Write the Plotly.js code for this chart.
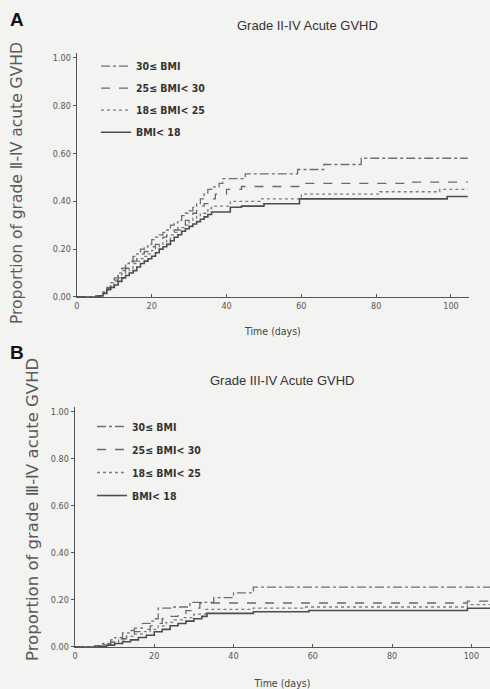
<!DOCTYPE html>
<html>
<head>
<meta charset="utf-8">
<script src="https://cdn.plot.ly/plotly-3.0.1.min.js"></script>
<style>html,body{margin:0;padding:0;background:#f3f3f1;}#chart{width:490px;height:689px;}</style>
</head>
<body>
<div id="chart"></div>
<script>
// ---- Legend / series names ----
const seriesNames = ["30\u2264 BMI", "25\u2264 BMI< 30", "18\u2264 BMI< 25", "BMI< 18"];
const yTitleA = "Proportion of grade \u2161-\u2163 acute GVHD";
const yTitleB = "Proportion of grade \u2162-\u2163 acute GVHD";

// ---- Panel A: Grade II-IV acute GVHD (days, cumulative proportion) ----
const tA_30 = [0, 5, 7, 8, 9, 10, 11, 12, 13, 14, 15, 16, 17, 18, 19, 20, 21, 22, 23, 24, 25, 26, 27, 28, 29, 30, 31, 32, 33, 34, 35, 36, 38, 39, 45, 59, 66, 76, 104.5];
const yA_30 = [0, 0.005, 0.02, 0.04, 0.06, 0.08, 0.10, 0.12, 0.14, 0.15, 0.17, 0.18, 0.20, 0.21, 0.22, 0.24, 0.25, 0.26, 0.27, 0.28, 0.30, 0.31, 0.32, 0.34, 0.35, 0.36, 0.375, 0.39, 0.41, 0.435, 0.45, 0.46, 0.475, 0.495, 0.515, 0.533, 0.554, 0.58, 0.58];

const tA_25 = [0, 5, 7, 8, 9, 10, 11, 12, 13, 14, 15, 16, 17, 18, 19, 20, 21, 22, 23, 24, 25, 26, 27, 28, 29, 30, 31, 32, 33, 34, 35, 37, 40, 44, 61, 89, 104.5];
const yA_25 = [0, 0.005, 0.02, 0.035, 0.05, 0.07, 0.09, 0.11, 0.12, 0.14, 0.15, 0.16, 0.18, 0.19, 0.20, 0.21, 0.22, 0.235, 0.25, 0.26, 0.27, 0.28, 0.29, 0.30, 0.32, 0.33, 0.35, 0.37, 0.38, 0.39, 0.41, 0.43, 0.45, 0.462, 0.475, 0.48, 0.48];

const tA_18 = [0, 5, 7, 8, 9, 10, 11, 12, 13, 14, 15, 16, 17, 18, 19, 20, 21, 22, 23, 24, 25, 26, 27, 28, 29, 30, 31, 32, 33, 35, 36, 41, 49, 60, 81, 97, 104.5];
const yA_18 = [0, 0.005, 0.02, 0.035, 0.05, 0.065, 0.08, 0.10, 0.11, 0.12, 0.14, 0.15, 0.16, 0.17, 0.18, 0.195, 0.21, 0.22, 0.23, 0.24, 0.26, 0.27, 0.28, 0.29, 0.30, 0.32, 0.33, 0.34, 0.35, 0.37, 0.38, 0.40, 0.41, 0.43, 0.44, 0.45, 0.45];

const tA_u18 = [0, 6, 7, 8, 9, 10, 11, 12, 13, 14, 15, 16, 17, 18, 19, 20, 21, 22, 23, 24, 25, 26, 27, 28, 29, 30, 31, 32, 33, 34, 35, 36, 41, 44, 50, 59.5, 99, 104.5];
const yA_u18 = [0, 0.005, 0.015, 0.03, 0.04, 0.05, 0.065, 0.08, 0.09, 0.10, 0.11, 0.125, 0.14, 0.15, 0.16, 0.17, 0.185, 0.20, 0.21, 0.22, 0.235, 0.25, 0.26, 0.275, 0.285, 0.295, 0.305, 0.315, 0.325, 0.335, 0.345, 0.355, 0.375, 0.38, 0.39, 0.41, 0.42, 0.42];

// ---- Panel B: Grade III-IV acute GVHD ----
const tB_30 = [0, 5, 7, 9, 10, 12, 14, 15, 17, 19, 20, 21, 25, 29, 35, 40, 45, 104.7];
const yB_30 = [0, 0.005, 0.015, 0.03, 0.04, 0.06, 0.07, 0.08, 0.10, 0.11, 0.12, 0.165, 0.17, 0.19, 0.21, 0.23, 0.255, 0.255];

const tB_25 = [0, 5, 7, 9, 11, 13, 15, 17, 19, 20, 22, 24, 26, 28, 30, 31.5, 99, 104.7];
const yB_25 = [0, 0.005, 0.01, 0.02, 0.035, 0.05, 0.065, 0.075, 0.09, 0.10, 0.12, 0.13, 0.14, 0.155, 0.165, 0.187, 0.195, 0.195];

const tB_18 = [0, 5, 7, 9, 11, 13, 15, 17, 19, 21, 23, 25, 27, 30, 33, 45, 58, 99, 104.7];
const yB_18 = [0, 0.005, 0.01, 0.02, 0.03, 0.045, 0.055, 0.065, 0.075, 0.09, 0.105, 0.115, 0.125, 0.14, 0.16, 0.165, 0.17, 0.18, 0.18];

const tB_u18 = [0, 6, 8, 10, 12, 14, 16, 18, 20, 22, 24, 26, 28, 30, 32, 33.3, 45, 59, 99, 104.7];
const yB_u18 = [0, 0.003, 0.008, 0.015, 0.022, 0.03, 0.04, 0.05, 0.065, 0.075, 0.09, 0.10, 0.11, 0.12, 0.13, 0.143, 0.15, 0.155, 0.165, 0.165];

const tickVals = [0, 20, 40, 60, 80, 100];
const yTickVals = [0, 0.2, 0.4, 0.6, 0.8, 1.0];

const styles = [
  {dash: "dashdot", color: "#6f6f6f", width: 1.3},
  {dash: "dash", color: "#6a6a6a", width: 1.3},
  {dash: "dot", color: "#7d7d7d", width: 1.3},
  {dash: "solid", color: "#4c4c4c", width: 1.6}
];

function mk(t, y, i, xa, ya, leg) {
  return {
    x: t, y: y, type: "scatter", mode: "lines",
    line: {shape: "hv", dash: styles[i].dash, color: styles[i].color, width: styles[i].width},
    name: seriesNames[i], xaxis: xa, yaxis: ya, legend: leg, legendgroup: leg + i,
    hoverinfo: "x+y"
  };
}

const data = [
  mk(tA_30, yA_30, 0, "x", "y", "legend"),
  mk(tA_25, yA_25, 1, "x", "y", "legend"),
  mk(tA_18, yA_18, 2, "x", "y", "legend"),
  mk(tA_u18, yA_u18, 3, "x", "y", "legend"),
  mk(tB_30, yB_30, 0, "x2", "y2", "legend2"),
  mk(tB_25, yB_25, 1, "x2", "y2", "legend2"),
  mk(tB_18, yB_18, 2, "x2", "y2", "legend2"),
  mk(tB_u18, yB_u18, 3, "x2", "y2", "legend2")
];

const narrow = "Liberation Sans Narrow, DejaVu Sans Condensed, Arial Narrow, sans-serif";
const tickFont = {family: narrow, size: 9, color: "#555"};
const legFont = {family: narrow, size: 10.5, color: "#333", weight: "bold"};

function xax(domain, range, anchor, standoff) {
  return {
    domain: domain, range: range, anchor: anchor,
    showline: true, linecolor: "#555", linewidth: 1.3,
    showgrid: false, zeroline: false,
    tickmode: "array", tickvals: tickVals,
    ticks: "inside", ticklen: 3, tickcolor: "#555",
    tickfont: tickFont,
    title: {text: "Time (days)", font: {family: narrow, size: 10.5, color: "#444"}, standoff: standoff}
  };
}
function yax(domain, anchor) {
  return {
    domain: domain, range: [0, 1.02], anchor: anchor,
    showline: true, linecolor: "#555", linewidth: 1.3,
    showgrid: false, zeroline: false,
    tickmode: "array", tickvals: yTickVals, tickformat: ".2f",
    ticks: "outside", ticklen: 3, tickcolor: "#555",
    tickfont: tickFont
  };
}

const layout = {
  width: 490, height: 689,
  margin: {l: 0, r: 0, t: 0, b: 0},
  paper_bgcolor: "#f3f3f1", plot_bgcolor: "#f3f3f1",
  showlegend: true,
  xaxis: xax([0.157, 0.957], [0, 104.8], "y", 17),
  yaxis: yax([0.569, 0.923], "x"),
  xaxis2: xax([0.153, 1.0], [0, 104.7], "y2", 19),
  yaxis2: yax([0.061, 0.409], "x2"),
  legend: {x: 96/490, y: 0.925, xanchor: "left", yanchor: "top", bgcolor: "rgba(0,0,0,0)",
           font: legFont, tracegroupgap: 3, traceorder: "grouped", itemwidth: 30},
  legend2: {x: 92/490, y: 0.402, xanchor: "left", yanchor: "top", bgcolor: "rgba(0,0,0,0)",
           font: legFont, tracegroupgap: 4, traceorder: "grouped", itemwidth: 30},
  annotations: [
    {text: "<b>A</b>", xref: "paper", yref: "paper", x: 8/490, y: 1 - 20/689, xanchor: "left", yanchor: "middle",
     showarrow: false, font: {family: "Liberation Sans, Arial, sans-serif", size: 19, color: "#111"}},
    {text: "<b>B</b>", xref: "paper", yref: "paper", x: 8/490, y: 1 - 352/689, xanchor: "left", yanchor: "middle",
     showarrow: false, font: {family: "Liberation Sans, Arial, sans-serif", size: 19, color: "#111"}},
    {text: "Grade II-IV Acute GVHD", xref: "paper", yref: "paper", x: 307/490, y: 1 - 25/689, xanchor: "center", yanchor: "middle",
     showarrow: false, font: {family: "Liberation Sans, Arial, sans-serif", size: 13, color: "#333"}},
    {text: "Grade III-IV Acute GVHD", xref: "paper", yref: "paper", x: 282/490, y: 1 - 380/689, xanchor: "center", yanchor: "middle",
     showarrow: false, font: {family: "Liberation Sans, Arial, sans-serif", size: 13, color: "#333"}},
    {text: yTitleA, xref: "paper", yref: "paper", x: 17/490, y: 1 - 183/689, xanchor: "center", yanchor: "middle",
     textangle: -90, showarrow: false, font: {family: "DejaVu Sans, sans-serif", size: 15.5, color: "#5a5a5a"}},
    {text: yTitleB, xref: "paper", yref: "paper", x: 33/490, y: 1 - 510/689, xanchor: "center", yanchor: "middle",
     textangle: -90, showarrow: false, font: {family: "DejaVu Sans, sans-serif", size: 16.5, color: "#5a5a5a"}}
  ]
};

Plotly.newPlot("chart", data, layout, {displayModeBar: false, staticPlot: true});
</script>
</body>
</html>
